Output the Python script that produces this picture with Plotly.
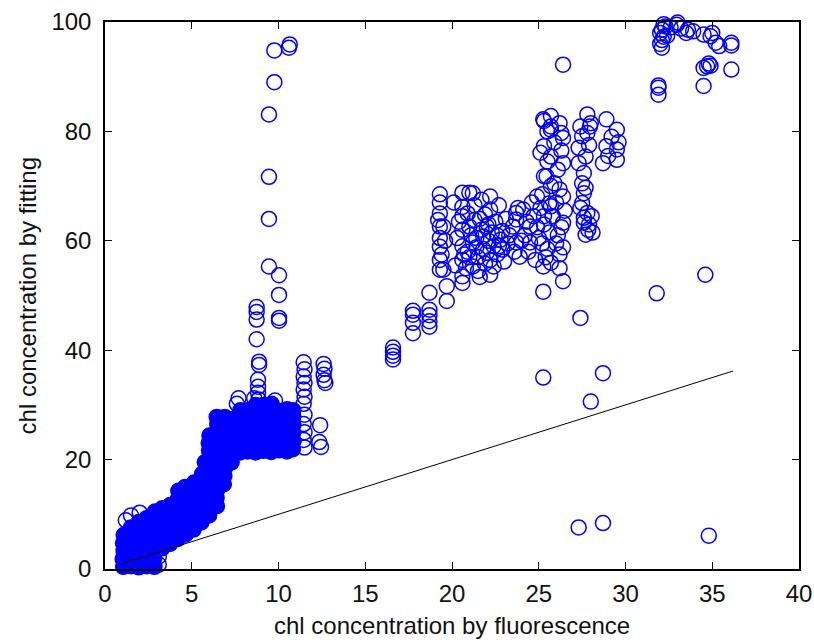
import plotly.graph_objects as go

# ---- sparse points (open circles) ----
ring_x = [
    9.76, 10.6, 10.65, 9.76, 9.45, 9.45, 9.45, 9.45, 10.03, 10.03, 10.03, 10.03,
    8.74, 8.74, 8.74, 8.74, 8.88, 8.88, 8.82, 8.82, 8.82, 8.85, 7.7, 7.6, 8.6, 9.8,
    11.45, 11.5, 11.45, 11.5, 11.45, 11.5, 11.45, 11.5, 11.45, 11.5, 11.45, 11.5,
    12.6, 12.65, 12.6, 12.65, 12.7, 12.4, 12.35, 12.45,
    1.5, 2.0, 3.1, 3.1, 1.2,
    16.6, 16.6, 16.6, 16.6, 17.75, 17.75, 17.75, 17.75, 18.7, 18.7, 18.7, 18.7, 18.7,
    19.7, 19.7, 19.3, 19.3, 19.3, 19.3, 19.3, 19.3, 19.3, 19.3, 19.5, 19.5,
    20.6, 20.6, 20.6, 20.6, 20.6, 20.6, 20.6, 20.6, 21.0, 21.0, 21.2, 21.2, 21.2,
    21.6, 22.2, 22.2, 22.2, 22.0, 22.4, 22.8, 22.9, 23.7, 23.7, 23.7, 23.5, 24.1,
    23.9, 24.5, 24.5, 24.9,
    20.9, 21.4, 21.8, 22.1, 21.5, 21.9, 22.6, 22.3, 21.1, 21.7, 22.9, 23.2, 21.3,
    21.9, 22.5, 23.0, 20.8, 21.5, 22.2, 21.0, 22.7,
    19.4, 19.6, 19.2, 20.2, 20.3, 20.4, 20.1, 20.9, 21.3, 21.6, 21.8, 22.0, 22.4,
    22.6, 22.1, 21.4, 20.7, 23.1, 23.3, 23.6, 24.0, 24.3, 23.8, 22.7, 21.7,
    24.2, 24.7, 25.0, 25.3, 25.5, 24.4, 25.1, 25.6, 26.0, 25.8, 26.2, 24.8, 26.3,
    25.4, 26.0,
    24.6, 25.2, 25.9, 26.1, 25.5, 26.3, 25.9, 26.2, 25.5, 25.2, 25.7, 26.4, 26.1,
    24.9, 26.5, 26.2, 25.6,
    25.7, 25.3, 25.7, 26.4, 25.3, 25.7, 26.4, 25.3, 25.7, 26.4, 25.7, 25.3,
    25.26, 25.7, 26.3, 25.1, 25.45, 26.2, 25.8, 26.4,
    27.8, 27.4, 27.95, 27.5, 27.8, 27.7, 27.3, 27.6, 27.6, 27.5, 27.8, 27.6, 27.85,
    27.7, 28.05,
    27.3, 27.9, 27.5, 27.7, 28.0, 27.4, 27.9, 27.6, 28.1,
    28.9, 29.5, 29.5, 28.9, 28.7, 29.5, 29.2, 29.0, 29.6,
    25.26, 26.4, 25.26, 27.4, 31.8, 34.6, 25.26, 28.0, 28.7, 27.3, 28.7, 34.8, 26.4,
    31.9, 31.9, 32.1, 32.0, 32.2, 32.1, 32.0, 32.3, 32.2, 32.1, 32.95, 33.6, 33.5,
    34.5, 35.0, 35.2, 36.1, 36.1, 36.1, 34.7, 34.8, 34.5, 34.9, 34.5, 33.2, 33.9,
    35.4, 34.9, 32.4, 32.6, 31.9, 33.0,
]
ring_y = [
    94.8, 95.3, 95.9, 89.0, 83.1, 71.7, 64.0, 55.3, 53.7, 50.1, 45.9, 45.4,
    47.9, 47.0, 45.6, 42.0, 37.9, 37.3, 34.6, 33.3, 32.2, 31.0, 31.2, 30.2, 31.2, 30.8,
    37.8, 36.5, 35.2, 34.0, 32.8, 31.5, 30.2, 28.2, 26.5, 25.0, 23.6, 22.2,
    37.5, 36.6, 35.5, 34.5, 34.0, 26.3, 23.2, 22.3,
    9.8, 10.3, 0.8, 2.3, 8.9,
    40.5, 39.7, 39.0, 38.3, 47.2, 46.5, 45.0, 43.1, 47.4, 46.4, 45.3, 44.3, 50.5,
    51.7, 49.0, 68.5, 67.0, 65.0, 62.6, 60.5, 58.9, 56.5, 54.7, 62.6, 54.7,
    68.8, 66.2, 64.5, 62.0, 59.0, 56.5, 53.5, 52.3, 68.8, 62.6, 59.7, 55.3, 68.7,
    53.4, 68.1, 65.7, 56.5, 62.6, 55.3, 60.2, 58.4, 65.1, 59.7, 63.9, 62.6, 65.7,
    57.1, 62.6, 59.7, 68.1,
    58.0, 60.5, 58.5, 60.0, 57.0, 55.8, 57.5, 61.5, 61.0, 62.0, 61.8, 59.5, 63.8,
    64.8, 63.5, 56.2, 55.0, 54.5, 53.8, 57.0, 59.0,
    57.5, 60.0, 63.8, 55.5, 60.5, 63.5, 67.0, 65.0, 66.5, 64.0, 60.8, 57.8, 59.0,
    61.0, 63.0, 58.8, 57.5, 64.0, 61.0, 58.0, 60.0, 63.5, 66.0, 66.5, 67.5,
    61.0, 64.5, 60.5, 63.0, 58.5, 58.0, 66.0, 61.5, 59.5, 64.5, 57.5, 56.5, 62.5,
    57.0, 67.0,
    67.0, 68.5, 70.5, 73.0, 74.5, 76.5, 78.0, 81.5, 80.0, 59.5, 56.0, 58.8, 61.0,
    62.5, 65.5, 55.0, 66.8,
    82.8, 81.9, 80.3, 78.8, 77.3, 75.4, 74.2, 71.8, 70.0, 68.1, 66.3, 64.5,
    82.2, 80.9, 79.7, 76.1, 71.8, 69.4, 64.5, 63.3,
    83.1, 80.9, 80.9, 79.1, 79.7, 75.4, 74.2, 72.4, 68.7, 66.9, 65.1, 63.3, 62.0,
    61.1, 64.5,
    77.0, 77.5, 70.5, 69.7, 81.5, 66.0, 63.0, 64.2, 61.5,
    82.2, 80.3, 76.7, 77.3, 74.2, 74.8, 79.0, 75.5, 78.0,
    55.3, 52.6, 50.7, 45.9, 50.4, 53.8, 35.0, 30.6, 35.8, 7.6, 8.4, 6.1, 92.2,
    88.0, 86.7, 98.6, 98.0, 97.3, 96.7, 96.0, 99.2, 99.6, 95.3, 99.5, 98.6, 98.0,
    97.7, 98.0, 96.2, 96.2, 95.7, 91.3, 91.9, 92.4, 91.6, 92.0, 88.3, 98.8, 98.3,
    95.6, 97.4, 97.5, 99.0, 88.4, 99.9,
]

# ---- dense core points (overlapping circles that read as solid) ----
core_x = [
    1.05, 1.02, 1.07, 1.04, 1.08,
    1.5, 1.47, 1.52, 1.49, 1.53, 1.5,
    1.95, 1.93, 1.97, 1.94, 1.96, 1.92, 1.95,
    2.4, 2.38, 2.42, 2.39, 2.41, 2.37, 2.4,
    2.85, 2.83, 2.87, 2.84, 2.86, 2.82, 2.85, 2.88,
    3.3, 3.28, 3.32, 3.29, 3.31, 3.3,
    3.75, 3.73, 3.77, 3.74, 3.76, 3.75,
    4.2, 4.18, 4.22, 4.19, 4.21, 4.2, 4.23,
    4.65, 4.63, 4.67, 4.64, 4.66, 4.65, 4.62,
    5.1, 5.08, 5.12, 5.09, 5.11, 5.1, 5.13,
    5.55, 5.53, 5.57, 5.54, 5.56, 5.55, 5.6, 5.75,
    6.0, 5.98, 6.02, 5.99, 6.01, 6.0, 5.97, 6.03, 6.0, 5.98, 6.02,
    6.45, 6.43, 6.47, 6.44, 6.46, 6.45, 6.42, 6.48, 6.45, 6.43, 6.47, 6.44,
    6.85, 6.88, 6.92, 6.89, 6.91, 6.9, 6.87, 6.93, 6.9,
    7.3, 7.33, 7.37, 7.34, 7.36, 7.35,
    7.8, 7.78, 7.82, 7.79, 7.81, 7.8,
    8.25, 8.23, 8.27, 8.24, 8.26, 8.25, 8.22,
    8.7, 8.68, 8.72, 8.69, 8.71, 8.7, 8.73,
    9.15, 9.13, 9.17, 9.14, 9.16, 9.15, 9.12,
    9.6, 9.58, 9.62, 9.59, 9.61, 9.6,
    10.05, 10.03, 10.07, 10.04, 10.06, 10.05,
    10.5, 10.48, 10.52, 10.49, 10.51, 10.5,
    10.85, 10.83, 10.87, 10.84, 10.86, 10.85,
]
core_y = [
    0.4, 1.8, 3.3, 4.7, 6.2,
    0.5, 1.9, 3.4, 4.9, 6.3, 7.6,
    0.3, 1.7, 3.2, 4.6, 6.1, 7.5, 8.6,
    0.5, 2.0, 3.4, 4.9, 6.4, 7.9, 9.3,
    0.4, 1.9, 3.3, 4.8, 6.3, 7.7, 9.2, 10.5,
    3.8, 5.2, 6.7, 8.1, 9.6, 11.1,
    4.6, 6.0, 7.5, 9.0, 10.4, 11.7,
    5.5, 7.0, 8.4, 9.9, 11.4, 12.8, 14.3,
    6.3, 7.7, 9.2, 10.7, 12.2, 13.6, 15.0,
    7.2, 8.6, 10.1, 11.6, 13.0, 14.5, 15.8,
    8.5, 10.0, 11.5, 13.0, 14.4, 15.9, 17.4, 19.5,
    9.8, 11.3, 12.7, 14.2, 15.7, 17.1, 18.6, 20.1, 21.6, 23.0, 24.4,
    11.5, 13.0, 14.5, 16.0, 17.5, 19.0, 20.5, 22.0, 23.5, 25.0, 26.5, 27.8,
    15.5, 17.0, 18.5, 20.0, 21.5, 23.0, 24.5, 26.0, 27.8,
    19.5, 21.0, 22.6, 24.2, 25.8, 27.4, 29.0,
    21.3, 22.8, 24.3, 25.8, 27.3, 28.8,
    21.5, 23.0, 24.5, 26.0, 27.5, 29.0, 30.0,
    21.3, 22.8, 24.3, 25.8, 27.3, 28.8, 30.0,
    21.6, 23.1, 24.6, 26.1, 27.6, 29.1, 30.2,
    21.4, 22.9, 24.4, 25.9, 27.4, 28.9,
    21.7, 23.2, 24.7, 26.2, 27.7, 29.2,
    21.5, 23.0, 24.5, 26.0, 27.5, 29.0,
    21.9, 23.4, 24.9, 26.4, 27.9, 29.3,
]

# ---- reference line y = x ----
line_x = [1.0, 36.2]
line_y = [1.0, 36.2]

x_ticks = [0, 5, 10, 15, 20, 25, 30, 35, 40]
y_ticks = [0, 20, 40, 60, 80, 100]

x_title = "chl concentration by fluorescence"
y_title = "chl concentration by fitting"

BLUE = "#0000FF"
FONT = "Liberation Sans, Arial, Helvetica, sans-serif"

fig = go.Figure()
fig.add_trace(go.Scatter(
    x=core_x, y=core_y, mode="markers", cliponaxis=False, hoverinfo="skip",
    marker=dict(symbol="circle", size=15, color=BLUE, line=dict(color=BLUE, width=1.5)),
    showlegend=False,
))
fig.add_trace(go.Scatter(
    x=ring_x, y=ring_y, mode="markers", cliponaxis=False,
    marker=dict(symbol="circle-open", size=15, color=BLUE, line=dict(color=BLUE, width=1.5)),
    showlegend=False,
))
fig.add_trace(go.Scatter(
    x=line_x, y=line_y, mode="lines", line=dict(color="black", width=1),
    showlegend=False,
))

axis_common = dict(
    showgrid=False, zeroline=False, showline=True, linecolor="black", linewidth=1.5,
    mirror="allticks", ticks="inside", ticklen=7, tickwidth=1.2, tickcolor="black",
    tickfont=dict(family=FONT, size=24, color="#111111"), automargin=False,
)
fig.update_xaxes(
    range=[0, 40], tickvals=x_ticks, ticktext=[str(v) for v in x_ticks],
    ticklabelstandoff=2, **axis_common,
)
fig.update_yaxes(
    range=[0, 100], tickvals=y_ticks, ticktext=[str(v) for v in y_ticks],
    ticklabelstandoff=7, **axis_common,
)
fig.add_annotation(
    text=x_title, xref="paper", yref="paper", x=0.5, y=-0.1024,
    xanchor="center", yanchor="middle", showarrow=False,
    font=dict(family=FONT, size=24, color="#111111"),
)
fig.add_annotation(
    text=y_title, xref="paper", yref="paper", x=-0.111, y=0.5,
    xanchor="center", yanchor="middle", showarrow=False, textangle=-90,
    font=dict(family=FONT, size=24, color="#111111"),
)
fig.update_layout(
    width=814, height=642,
    margin=dict(l=105, r=15, t=22, b=73),
    plot_bgcolor="white", paper_bgcolor="white",
)
fig.write_html("out.html")
